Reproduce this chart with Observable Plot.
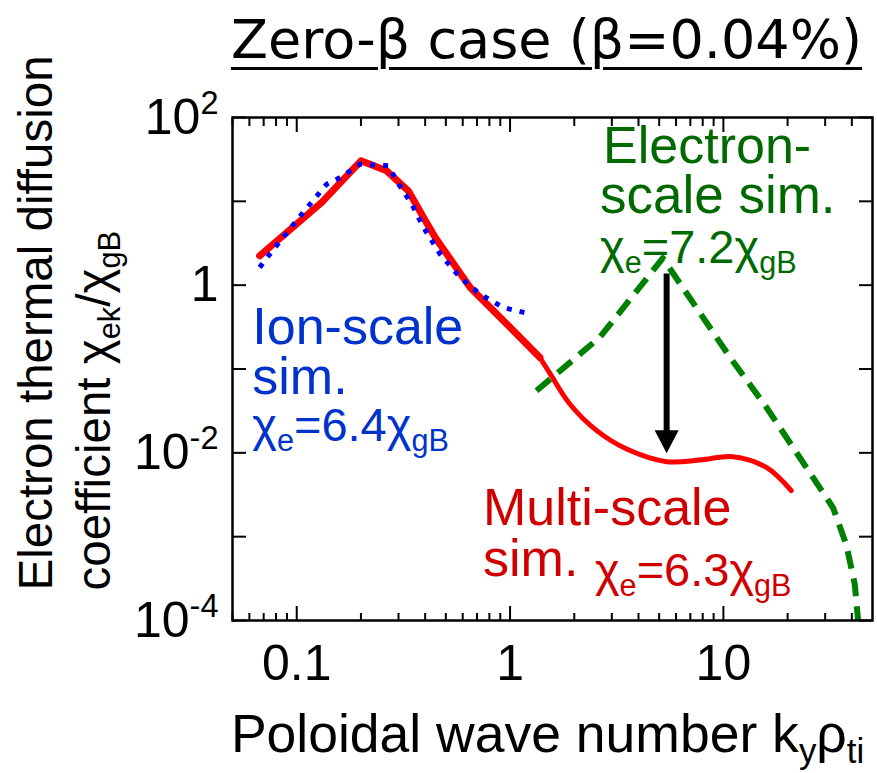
<!DOCTYPE html>
<html>
<head>
<meta charset="utf-8">
<script src="https://cdn.jsdelivr.net/npm/d3@7"></script>
<script src="https://cdn.jsdelivr.net/npm/@observablehq/plot@0.6"></script>
<style>
  body { margin: 0; background: #fff; }
  #wrap { position: relative; width: 877px; height: 773px; overflow: hidden; }
  #title {
    position: absolute; left: 231px; top: 13px; margin: 0;
    font-family: "DejaVu Sans", Verdana, sans-serif; font-size: 54px; font-weight: normal;
    line-height: 54px; white-space: nowrap; color: #000;
    text-decoration: underline; text-decoration-thickness: 3px; text-underline-offset: 9px;
  }
  #wrap svg { position: absolute; left: 0; top: 0; }
</style>
</head>
<body>
<div id="wrap"><div id="title">Zero-β case (β=0.04%)</div></div>
<script>
// ---- data ----
const multiK   = [0.067, 0.131, 0.200, 0.264, 0.334, 0.393, 0.446, 0.650, 0.965, 1.38, 1.54, 1.91, 2.55, 3.52, 5.42, 7.77, 11.1, 15.9, 20.8];
const multiChi = [2.24, 9.7, 30.4, 23.1, 13.3, 6.4, 3.7, 0.94, 0.344, 0.137, 0.088, 0.038, 0.0184, 0.0111, 0.00785, 0.0082, 0.0090, 0.0067, 0.00355];

const ionK   = [0.067, 0.078, 0.104, 0.138, 0.160, 0.198, 0.269, 0.294, 0.346, 0.393, 0.470, 0.583, 0.723, 0.93, 1.26];
const ionChi = [1.63, 2.69, 6.7, 16.0, 19.2, 27.8, 26.5, 17.5, 9.3, 4.9, 2.35, 1.24, 0.78, 0.54, 0.45];

const elecK   = [1.33, 2.64, 5.2, 10.7, 15.9, 22.8, 32.7, 37.7, 41.3, 42.8];
const elecChi = [0.055, 0.24, 2.1, 0.14, 0.035, 0.0088, 0.0022, 0.0008, 0.00027, 0.0001];

const arrowK = [5.42];
const arrowFrom = [1.36];
const arrowTo = [0.0099];

const xTicks = [0.1, 1, 10];
const xTickLabels = ["0.1", "1", "10"];
const xMinor = [0.05,0.06,0.07,0.08,0.09,0.2,0.3,0.4,0.5,0.6,0.7,0.8,0.9,2,3,4,5,6,7,8,9,20,30,40];
const yTicks = [100, 1, 0.01, 0.0001];
const yTickLabels = ["10^{2}", "1", "10^{-2}", "10^{-4}"];
const yDecades = [1e-4, 1e-3, 1e-2, 1e-1, 1, 10, 100];

const noteText  = ["Ion-scale", "sim.", "χ_{e}=6.4χ_{gB}",
                   "Electron-", "scale sim.", "χ_{e}=7.2χ_{gB}",
                   "Multi-scale", "sim.", "χ_{e}=6.3χ_{gB}"];
const noteK     = [0.0619, 0.0619, 0.0619, 2.73, 2.64, 2.64, 0.747, 0.747, 2.50];
const noteChi   = [0.200, 0.0508, 0.0140, 28.8, 7.29, 1.85, 0.00136, 0.000344, 0.000261];
const noteColor = ["#0033cc","#0033cc","#0033cc","#006a00","#006a00","#006a00","#d00000","#d00000","#d00000"];
const noteSize  = [52, 52, 47, 52, 53, 47, 52, 52, 47];

const xTitle = "Poloidal wave number k_{y}ρ_{ti}";
const yTitle1 = "Electron thermal diffusion";
const yTitle2 = "coefficient χ_{ek}/χ_{gB}";

// ---- tables ----
const multi = multiK.map((k, i) => ({k, chi: multiChi[i]}));
const ion = ionK.map((k, i) => ({k, chi: ionChi[i]}));
const elec = elecK.map((k, i) => ({k, chi: elecChi[i]}));
const arrow = arrowK.map((k, i) => ({k, from: arrowFrom[i], to: arrowTo[i]}));
const notes = noteText.map((t, i) => ({t, k: noteK[i], chi: noteChi[i], c: noteColor[i], s: noteSize[i]}));
const splitK = 1.38;

const downTriangle = {
  draw(ctx) { ctx.moveTo(0, 0); ctx.lineTo(-12, -23); ctx.lineTo(12, -23); ctx.closePath(); }
};

const noteMarks = notes.map(n => Plot.text([n], {
  x: "k", y: "chi", text: "t", fill: n.c, fontSize: n.s,
  textAnchor: "start", lineAnchor: "bottom"
}));

const plot = Plot.plot({
  width: 877, height: 773,
  marginLeft: 232, marginRight: 5, marginTop: 117, marginBottom: 153,
  style: {fontFamily: "'Liberation Sans', Arial, sans-serif", background: "transparent", overflow: "visible"},
  x: {type: "log", domain: [0.05, 50], axis: null},
  y: {type: "log", domain: [1e-4, 1e2], axis: null},
  marks: [
    Plot.line(elec, {x: "k", y: "chi", stroke: "#008000", strokeWidth: 6, strokeDasharray: "18,10", strokeLinecap: "butt", clip: true}),
    Plot.line(multi.filter(d => d.k <= splitK), {x: "k", y: "chi", stroke: "#ff0000", strokeWidth: 7}),
    Plot.line(multi.filter(d => d.k >= splitK), {x: "k", y: "chi", stroke: "#ff0000", strokeWidth: 5, curve: "catmull-rom"}),
    Plot.line(ion, {x: "k", y: "chi", stroke: "#0000ff", strokeWidth: 5, strokeDasharray: "5,8", strokeLinecap: "butt"}),
    Plot.ruleX(arrow, {x: "k", y1: "from", y2: "to", stroke: "black", strokeWidth: 6, insetBottom: 12}),
    Plot.dot(arrow, {x: "k", y: "to", symbol: downTriangle, fill: "black", r: 10}),
    Plot.frame({stroke: "black", strokeWidth: 2.5}),
    Plot.axisX({anchor: "bottom", ticks: xMinor, tickSize: -7, text: null, strokeWidth: 2, label: null}),
    Plot.axisX({anchor: "bottom", ticks: xTicks, tickSize: -14, text: null, strokeWidth: 2, label: null}),
    Plot.axisX({anchor: "top", ticks: xMinor, tickSize: -8, text: null, strokeWidth: 2, label: null}),
    Plot.axisX({anchor: "top", ticks: xTicks, tickSize: -14, text: null, strokeWidth: 2, label: null}),
    Plot.axisY({anchor: "left", ticks: yDecades, tickSize: -14, text: null, strokeWidth: 2, label: null}),
    Plot.axisY({anchor: "right", ticks: yDecades, tickSize: -14, text: null, strokeWidth: 2, label: null}),
    Plot.axisX({anchor: "bottom", ticks: xTicks, tickFormat: d => xTickLabels[xTicks.indexOf(d)], tickSize: 0, tickPadding: 24, fontSize: 50, fill: "black", label: null}),
    Plot.axisY({anchor: "left", ticks: yTicks, tickFormat: d => yTickLabels[yTicks.indexOf(d)], tickSize: 0, tickPadding: 14, fontSize: 50, fill: "black", label: null}),
    ...noteMarks,
    Plot.text([xTitle], {frameAnchor: "bottom", text: d => d, dx: -5, dy: 131, fontSize: 53.5, textAnchor: "middle", lineAnchor: "bottom", fill: "black"}),
    Plot.text([yTitle1], {frameAnchor: "bottom-left", text: d => d, dx: -181, dy: -30, rotate: -90, fontSize: 47.5, textAnchor: "start", lineAnchor: "bottom", fill: "black"}),
    Plot.text([yTitle2], {frameAnchor: "bottom-left", text: d => d, dx: -123, dy: -30, rotate: -90, fontSize: 47.5, textAnchor: "start", lineAnchor: "bottom", fill: "black"})
  ]
});

document.getElementById("wrap").appendChild(plot);

// turn _{..} and ^{..} into real subscripts / superscripts
function richText(el) {
  const s = el.textContent;
  if (!/[_^]\{/.test(s)) return;
  const fs = parseFloat(getComputedStyle(el).fontSize) || 16;
  while (el.firstChild) el.removeChild(el.firstChild);
  const re = /([_^])\{([^}]*)\}|([^_^]+)/g;
  let m, shift = 0;
  while ((m = re.exec(s))) {
    const t = document.createElementNS("http://www.w3.org/2000/svg", "tspan");
    let target;
    if (m[1]) {
      target = m[1] === "_" ? fs * 0.22 : -fs * 0.4;
      t.setAttribute("font-size", (fs * 0.65).toFixed(1));
      t.textContent = m[2];
    } else {
      target = 0;
      t.textContent = m[3];
    }
    t.setAttribute("dy", (target - shift).toFixed(1));
    shift = target;
    el.appendChild(t);
  }
}
plot.querySelectorAll("text").forEach(richText);
</script>
</body>
</html>
